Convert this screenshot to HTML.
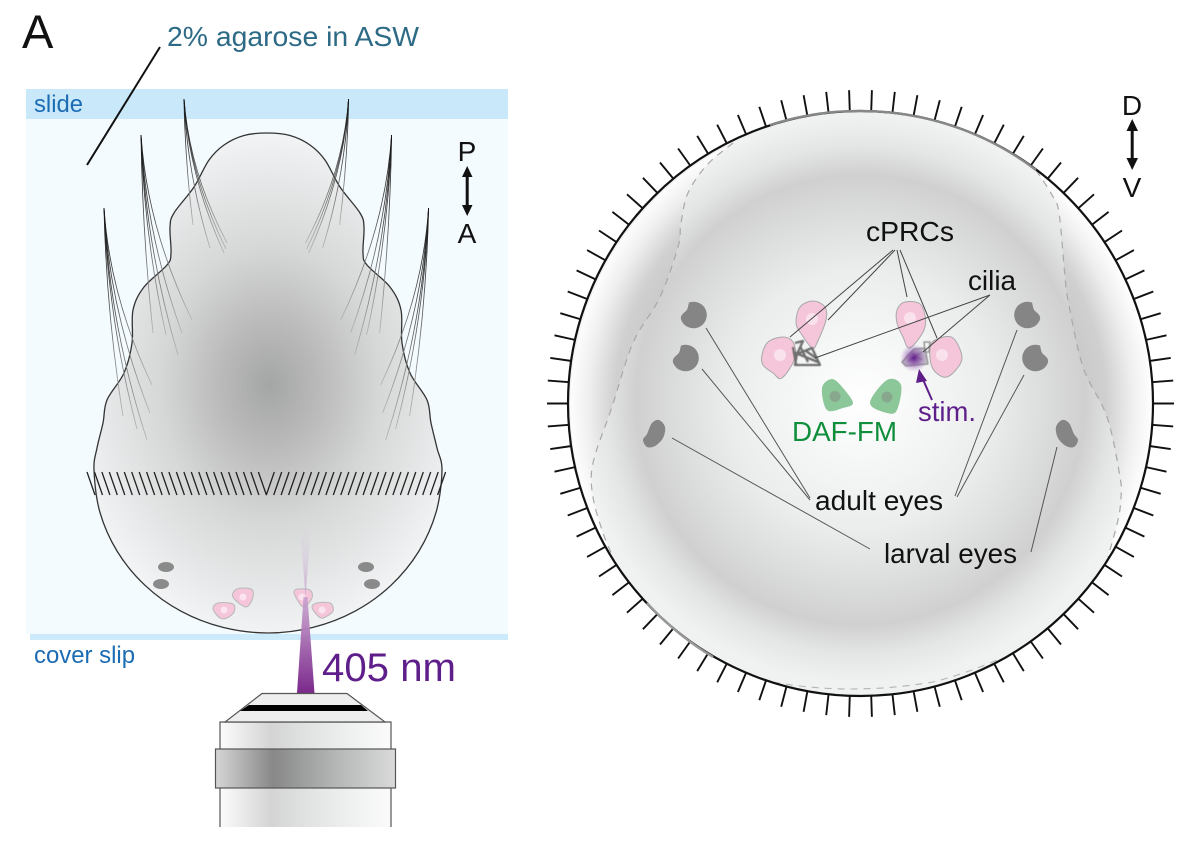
<!DOCTYPE html>
<html lang="en">
<head>
<meta charset="utf-8">
<title>Larva imaging diagram</title>
<style>
html,body{margin:0;padding:0;background:#fff;}
svg{display:block;}
text{font-family:"Liberation Sans",sans-serif;}
</style>
</head>
<body>
<svg id="fig" xmlns="http://www.w3.org/2000/svg" width="1200" height="850" viewBox="0 0 1200 850">
<defs>
<radialGradient id="bodyG" gradientUnits="userSpaceOnUse" cx="270" cy="385" r="200" gradientTransform="translate(270 385) scale(1 1.25) translate(-270 -385)">
<stop offset="0" stop-color="#a4a5a5"/><stop offset=".25" stop-color="#bababa"/><stop offset=".55" stop-color="#d6d7d7"/><stop offset="1" stop-color="#f1f3f4"/>
</radialGradient>
<linearGradient id="beamG" gradientUnits="userSpaceOnUse" x1="0" y1="693" x2="0" y2="595">
<stop offset="0" stop-color="#7b2a8c"/><stop offset=".5" stop-color="#a66cb0"/><stop offset="1" stop-color="#c9a4d0" stop-opacity=".85"/>
</linearGradient>
<linearGradient id="beamUp" gradientUnits="userSpaceOnUse" x1="0" y1="597" x2="0" y2="525">
<stop offset="0" stop-color="#c3a0cc" stop-opacity=".8"/><stop offset="1" stop-color="#d8cfe0" stop-opacity="0"/>
</linearGradient>
<linearGradient id="barrelG" x1="0" y1="0" x2="1" y2="0">
<stop offset="0" stop-color="#fbfbfb"/><stop offset=".3" stop-color="#d4d4d4"/><stop offset=".6" stop-color="#e6e8e8"/><stop offset="1" stop-color="#fbfbfb"/>
</linearGradient>
<linearGradient id="collarG" x1="0" y1="0" x2="1" y2="0">
<stop offset="0" stop-color="#d6d6d6"/><stop offset=".32" stop-color="#888888"/><stop offset=".65" stop-color="#b2b4b4"/><stop offset="1" stop-color="#dadada"/>
</linearGradient>
<radialGradient id="sphereG" gradientUnits="userSpaceOnUse" cx="860.5" cy="400" r="292">
<stop offset="0" stop-color="#ffffff"/><stop offset=".45" stop-color="#ebeded"/><stop offset=".77" stop-color="#d0d0d0"/><stop offset=".87" stop-color="#e4e5e5"/><stop offset=".97" stop-color="#f0f1f1"/>
</radialGradient>
<radialGradient id="crescentG" gradientUnits="userSpaceOnUse" cx="860.5" cy="403.5" r="292.5">
<stop offset=".72" stop-color="#c6c6c6"/><stop offset=".84" stop-color="#d0d0d0"/><stop offset=".93" stop-color="#efefef"/><stop offset="1" stop-color="#ffffff"/>
</radialGradient>
<radialGradient id="glowG">
<stop offset="0" stop-color="#5e1a8a"/><stop offset=".3" stop-color="#7b3a9e" stop-opacity=".75"/><stop offset="1" stop-color="#a070c0" stop-opacity="0"/>
</radialGradient>
<linearGradient id="ciliumG" x1="0" y1="0" x2="0" y2="1">
<stop offset="0" stop-color="#111"/><stop offset=".35" stop-color="#444"/><stop offset="1" stop-color="#b4b4b4"/>
</linearGradient>
<filter id="soft" x="-20%" y="-20%" width="140%" height="140%"><feGaussianBlur stdDeviation="0.5"/></filter>
</defs>

<!-- left panel -->
<rect x="26" y="119" width="482" height="515" fill="#f4fbfe"/>
<rect x="26" y="89" width="482" height="30" fill="#c9e9fb"/>
<rect x="30" y="634" width="478" height="6" fill="#cdeafa"/>

<path id="larva" fill="url(#bodyG)" stroke="#333" stroke-width="1.3" d=""/>

<g id="cilia-bundles"></g>
<g id="band"></g>

<g fill="#8a8a8a">
<ellipse cx="166" cy="567" rx="8" ry="5"/><ellipse cx="161" cy="584" rx="8" ry="5"/>
<ellipse cx="366" cy="567" rx="8" ry="5"/><ellipse cx="372" cy="584" rx="8" ry="5"/>
</g>
<g fill="#f5c6da" stroke="#b8b8b8" stroke-width="1">
<path class="sm" data-pts="233,597 237,589 251,589 253,597 246,607"/>
<path class="sm" data-pts="213,609 218,603 233,604 234,612 227,618 220,618"/>
<path class="sm" data-pts="294,592 298,589 310,590 312,598 304,607 298,601"/>
<path class="sm" data-pts="312,607 317,603 330,603 333,611 323,618 317,615"/>
<g fill="#fbe4ee" stroke="none"><circle cx="243" cy="597" r="3.500"/><circle cx="224" cy="610" r="3.500"/><circle cx="302" cy="597" r="3.500"/><circle cx="322" cy="610" r="3.500"/></g>
</g>
<path d="M305.500 597L300 527H311Z" fill="url(#beamUp)"/>
<path d="M303.500 597H307.500L314.500 693H297Z" fill="url(#beamG)"/>

<!-- objective -->
<g>
<rect x="220" y="722" width="171" height="105" fill="url(#barrelG)"/>
<path d="M220 827V722H391V827" fill="none" stroke="#555" stroke-width="1.2"/>
<path d="M262 693.500H347L385 722H225Z" fill="#eeeeee" stroke="#555" stroke-width="1.2"/>
<path d="M249 705H361L368 711H240Z" fill="#000"/>
<rect x="215.500" y="749" width="180" height="39" fill="url(#collarG)" stroke="#555" stroke-width="1.2"/>
</g>

<text x="22" y="48" font-size="47" fill="#111">A</text>
<text x="167" y="46" font-size="28" fill="#2d6a85" textLength="252" lengthAdjust="spacingAndGlyphs">2% agarose in ASW</text>
<line x1="160" y1="47" x2="87" y2="165" stroke="#111" stroke-width="2"/>
<text x="34" y="112" font-size="24" fill="#1c6cb4" textLength="49" lengthAdjust="spacingAndGlyphs">slide</text>
<text x="34" y="663" font-size="24" fill="#1c6cb4" textLength="101" lengthAdjust="spacingAndGlyphs">cover slip</text>
<text x="322" y="681" font-size="40" fill="#5f1f8a" textLength="134" lengthAdjust="spacingAndGlyphs">405 nm</text>
<text x="467" y="161" font-size="28" fill="#111" text-anchor="middle">P</text>
<text x="467" y="243" font-size="28" fill="#111" text-anchor="middle">A</text>
<g fill="#111">
<rect x="465.700" y="172" width="3" height="38"/><path d="M467.200 166L472.500 177H462Z"/><path d="M467.200 216L472.500 205H462Z"/>
</g>

<!-- right panel -->
<g id="ticks"></g>
<circle cx="860.500" cy="403.500" r="292" fill="url(#sphereG)"/>
<path id="crescentL" fill="url(#crescentG)" d=""/>
<path id="crescentR" fill="url(#crescentG)" d=""/>
<path id="dashL" fill="none" stroke="#a8a8a8" stroke-width="1.200" stroke-dasharray="7 6" d=""/>
<path id="dashR" fill="none" stroke="#a8a8a8" stroke-width="1.200" stroke-dasharray="7 6" d=""/>
<path fill="none" stroke="#b4b4b4" stroke-width="1.100" stroke-dasharray="7 6" d="M773 682Q850 696 933 682Q965 674 997 660"/>
<circle cx="860.500" cy="403.500" r="292.500" fill="none" stroke="#111" stroke-width="2.200"/>
<path d="M770 125A292.500 292.500 0 0 1 1036 170" fill="none" stroke="#888" stroke-width="2.400"/>
<path d="M647 603A292.500 292.500 0 0 0 713 657" fill="none" stroke="#999" stroke-width="2.400"/>

<g stroke="#555" stroke-width="1" fill="none">
<path d="M706 328L810 498M702 369L810 500M955 496L1017 330M957 497L1024 375"/>
</g>
<g stroke="#555" stroke-width="1" fill="none">
<path d="M672 438L870 549M1031 552L1057 447"/>
</g>

<g fill="#858585">
<path d="M689 302.500A13.300 13.300 0 1 1 681 319.500C680 315 684 313 686 311C688 309 688 306 689 302.500Z"/>
<path transform="translate(-8 43)" d="M689 302.500A13.300 13.300 0 1 1 681 319.500C680 315 684 313 686 311C688 309 688 306 689 302.500Z"/>
<path class="sm" data-pts="652,423 659,420 665,427 663,438 655,446 647,447 643,440 647,434"/>
<g transform="translate(1721 0) scale(-1 1)">
<path d="M689 302.500A13.300 13.300 0 1 1 681 319.500C680 315 684 313 686 311C688 309 688 306 689 302.500Z"/>
<path transform="translate(-8 43)" d="M689 302.500A13.300 13.300 0 1 1 681 319.500C680 315 684 313 686 311C688 309 688 306 689 302.500Z"/>
<path class="sm" data-pts="652,423 659,420 665,427 663,438 655,446 647,447 643,440 647,434"/>
</g>
</g>

<g fill="#f5c6da" stroke="#a8a8a8" stroke-width="1">
<path class="sm" data-pts="800,307 813,301 825,307 826,320 817,343 812,348 802,335 796,323"/>
<path class="sm" data-pts="762,355 768,342 783,337 793,342 795,358 782,378 773,373 763,365"/>
<path class="sm" data-pts="897,310 905,302 921,305 925,327 910,348 903,337 897,323"/>
<path class="sm" data-pts="930,347 937,339 953,338 962,358 953,373 943,377 932,367"/>
<g fill="#fae2ec" stroke="none"><circle cx="812" cy="319" r="6"/><circle cx="780" cy="355" r="6"/><circle cx="910" cy="318" r="6"/><circle cx="942" cy="355" r="6"/></g>
</g>
<g fill="#8cc79a">
<path class="sm" data-pts="822,388 832,379 843,388 853,403 843,408 827,410"/>
<path class="sm" data-pts="870,403 887,380 901,385 897,410 887,413"/>
<g fill="#88a88e"><circle cx="835" cy="396.500" r="5.500"/><circle cx="887" cy="397" r="5.500"/></g>
</g>

<g fill="none" stroke="#6e6e6e" stroke-width="2.300" filter="url(#soft)" stroke-linejoin="round">
<path d="M795 343L803 341L797 354L812 348L820 365L795 365L797 354M800 346L808 362M793 352L818 362M793 347L796 364M806 351L816 358"/>
</g>
<g fill="#c8c8c8" stroke="#8a8a8a" stroke-width="1.300" filter="url(#soft)" stroke-linejoin="round">
<path d="M902 362L914 349L925 348L928 364L906 366Z"/>
<path fill="none" d="M908 361L922 352M922 360L912 353M924 342L930 342L929 352L925 352Z"/>
</g>
<circle cx="914" cy="358" r="14" fill="url(#glowG)"/>

<g stroke="#444" stroke-width="1" fill="none">
<path d="M893 250L790 337M895 250L828 320M897 250L907 297M900 250L937 338"/>
</g>
<g stroke="#444" stroke-width="1" fill="none">
<path d="M990 295L815 358M990 295L923 352"/>
</g>
<g>
<line x1="932" y1="400" x2="921" y2="375" stroke="#5f1f8a" stroke-width="2"/>
<path d="M919 369L927 381L916 383Z" fill="#5f1f8a"/>
</g>

<text x="866" y="241" font-size="28" fill="#111" textLength="88" lengthAdjust="spacingAndGlyphs">cPRCs</text>
<text x="968" y="290" font-size="28" fill="#111" textLength="48" lengthAdjust="spacingAndGlyphs">cilia</text>
<text x="792" y="441" font-size="28" fill="#0f8f3c" textLength="105" lengthAdjust="spacingAndGlyphs">DAF-FM</text>
<text x="918" y="421" font-size="28" fill="#5f1f8a" textLength="58" lengthAdjust="spacingAndGlyphs">stim.</text>
<text x="815" y="510" font-size="28" fill="#111" textLength="128" lengthAdjust="spacingAndGlyphs">adult eyes</text>
<text x="884" y="563" font-size="28" fill="#111" textLength="133" lengthAdjust="spacingAndGlyphs">larval eyes</text>
<text x="1132" y="115" font-size="28" fill="#111" text-anchor="middle">D</text>
<text x="1132" y="197" font-size="28" fill="#111" text-anchor="middle">V</text>
<g fill="#111">
<rect x="1130.700" y="126" width="3" height="38"/><path d="M1132.200 119L1138 131H1126.500Z"/><path d="M1132.200 170L1138 158H1126.500Z"/>
</g>
</svg>
<script>
var NS = 'http://www.w3.org/2000/svg';

function smooth(p, closed) {
  var n = p.length, d = 'M' + p[0][0] + ' ' + p[0][1];
  var last = closed ? n : n - 1;
  for (var i = 0; i < last; i++) {
    var p0 = closed ? p[(i - 1 + n) % n] : p[Math.max(i - 1, 0)];
    var p1 = p[i % n];
    var p2 = closed ? p[(i + 1) % n] : p[i + 1];
    var p3 = closed ? p[(i + 2) % n] : p[Math.min(i + 2, n - 1)];
    d += 'C' + (p1[0] + (p2[0] - p0[0]) / 6).toFixed(1) + ' ' + (p1[1] + (p2[1] - p0[1]) / 6).toFixed(1) + ' ' +
         (p2[0] - (p3[0] - p1[0]) / 6).toFixed(1) + ' ' + (p2[1] - (p3[1] - p1[1]) / 6).toFixed(1) + ' ' +
         p2[0] + ' ' + p2[1];
  }
  return closed ? d + 'Z' : d;
}

var cells = document.querySelectorAll('.sm');
for (var c = 0; c < cells.length; c++) {
  var pts = cells[c].getAttribute('data-pts').split(' ').map(function (s) { return s.split(',').map(Number); });
  cells[c].setAttribute('d', smooth(pts, true));
}

var bodyRight = [[267,133],[290,135.500],[310,145],[325,160],[340,187],[360,213],[364,227],[363,253],[367,265],[390,287],[401,310],[402,343],[410,373],[427,400],[431,423],[437,448]];
var bodyPts = bodyRight.slice();
for (var a = 0; a <= 180; a += 15) {
  var rad = a * Math.PI / 180;
  bodyPts.push([+(268 + 174 * Math.cos(rad)).toFixed(1), +(470 + 163 * Math.sin(rad)).toFixed(1)]);
}
for (var r = bodyRight.length - 1; r > 0; r--) {
  bodyPts.push([534 - bodyRight[r][0], bodyRight[r][1]]);
}
document.getElementById('larva').setAttribute('d', smooth(bodyPts, true));

var dashLeft = [[733,143],[707,165],[688,193],[681,223],[678,247],[660,297],[633,343],[612,407],[593,463],[593,497],[603,533],[613,557]];
var dashRight = [[1036,170],[1052,195],[1059,213],[1065,277],[1068,300],[1083,367],[1107,417],[1120,477],[1121,497],[1118,520],[1108,557]];
var dl = smooth(dashLeft, false), dr = smooth(dashRight, false);
document.getElementById('dashL').setAttribute('d', dl);
document.getElementById('dashR').setAttribute('d', dr);
document.getElementById('crescentL').setAttribute('d', dl + 'A292 292 0 0 1 733 143Z');
document.getElementById('crescentR').setAttribute('d', dr + 'A292 292 0 0 0 1036 170Z');

var tickCount = 86;
var cx = 860.5, cy = 403.5, rIn = 292, rOut = 313.5;
var tickPath = '';
for (var i = 0; i < tickCount; i++) {
  var t = i * 2 * Math.PI / tickCount;
  tickPath += 'M' + (cx + rIn * Math.cos(t)).toFixed(1) + ' ' + (cy + rIn * Math.sin(t)).toFixed(1) +
              'L' + (cx + rOut * Math.cos(t)).toFixed(1) + ' ' + (cy + rOut * Math.sin(t)).toFixed(1);
}
var tp = document.createElementNS(NS, 'path');
tp.setAttribute('d', tickPath);
tp.setAttribute('stroke', '#111');
tp.setAttribute('stroke-width', '1.9');
tp.setAttribute('fill', 'none');


document.getElementById('ticks').appendChild(tp);

var bandPath = '';
for (var j = 0; j < 24; j++) {
  var xt = 87 + j * 7.45;
  bandPath += 'M' + xt.toFixed(1) + ' 472L' + (xt + 8).toFixed(1) + ' 495';
  var xm = 532.6 - xt;
  bandPath += 'M' + xm.toFixed(1) + ' 472L' + (xm - 8).toFixed(1) + ' 495';
}
var bp = document.createElementNS(NS, 'path');
bp.setAttribute('d', bandPath);
bp.setAttribute('stroke', '#222');
bp.setAttribute('stroke-width', '1.3');
bp.setAttribute('fill', 'none');


document.getElementById('band').appendChild(bp);

var origins = [[184, 99], [141, 135], [104, 208]];
var ends = [
  [[193, 225], [210, 248], [224, 253], [226, 249], [227, 243]],
  [[153, 333], [166, 335], [178, 355], [182, 333], [192, 320]],
  [[123, 416], [137, 429], [147, 440], [150, 413], [152, 385]]
];
var cg = document.getElementById('cilia-bundles');
function addCilium(sx, sy, ex, ey) {
  var c1x = sx + (ex - sx) * 0.12, c1y = sy + (ey - sy) * 0.5;
  var p = document.createElementNS(NS, 'path');
  p.setAttribute('d', 'M' + sx + ' ' + sy + 'Q' + c1x.toFixed(1) + ' ' + c1y.toFixed(1) + ' ' + ex + ' ' + ey);
  p.setAttribute('fill', 'none');
  p.setAttribute('stroke', 'url(#ciliumG)');
  p.setAttribute('stroke-width', '0.85');
  
  
  cg.appendChild(p);
}
for (var b = 0; b < origins.length; b++) {
  for (var e = 0; e < ends[b].length; e++) {
    addCilium(origins[b][0], origins[b][1], ends[b][e][0], ends[b][e][1]);
    addCilium(532.6 - origins[b][0], origins[b][1], 532.6 - ends[b][e][0], ends[b][e][1]);
  }
}
</script>
</body>
</html>
